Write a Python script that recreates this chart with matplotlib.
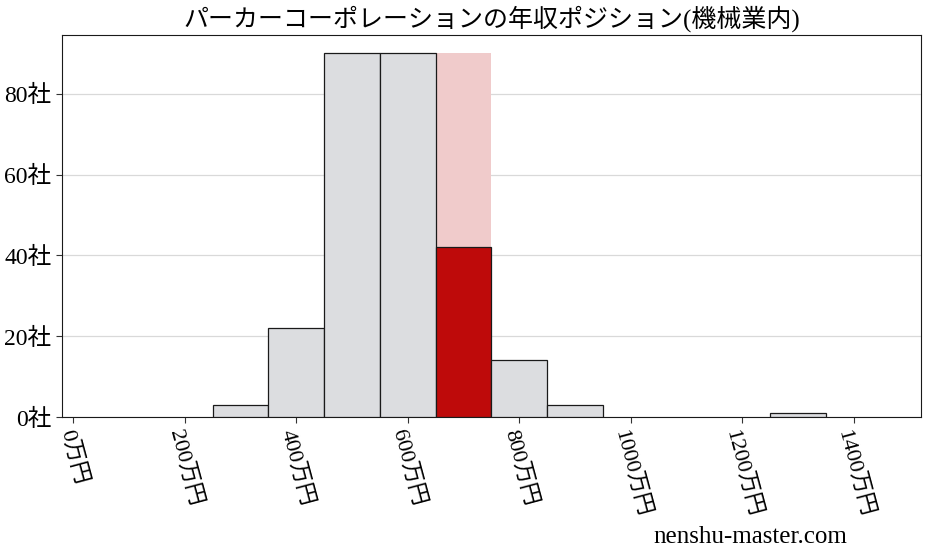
import numpy as np
import matplotlib
matplotlib.use("Agg")
import matplotlib.pyplot as plt

# salary bins (万円) and company counts per bin
bin_centers = [300, 400, 500, 600, 700, 800, 900, 1000, 1100, 1200, 1300]
counts = [3, 22, 90, 90, 42, 14, 3, 0, 0, 0, 1]
highlight_center = 700
bin_width = 100

title = "パーカーコーポレーションの年収ポジション(機械業内)"
yticks = [0, 20, 40, 60, 80]
xticks = [0, 200, 400, 600, 800, 1000, 1200, 1400]

fonts = ["Liberation Serif", "Noto Sans CJK JP", "DejaVu Sans"]
plt.rcParams["font.family"] = fonts

fig = plt.figure(figsize=(9.27, 5.57), dpi=100)
ax = fig.add_axes([0.0669, 0.2513, 0.9266, 0.6857])

grey = "#dcdde0"
red = "#be0a0a"
pink = "#f0cbcb"

hi = bin_centers.index(highlight_center)
ax.bar(highlight_center, max(counts), width=bin_width, color=pink, zorder=2)

for i, (c, n) in enumerate(zip(bin_centers, counts)):
    if n == 0:
        continue
    face = red if i == hi else grey
    ax.bar(c, n, width=bin_width, color=face, edgecolor="#1a1a1a",
           linewidth=0.9, zorder=3)

ax.set_xlim(-20, 1520)
ax.set_ylim(0, max(counts) * 1.05)
ax.yaxis.grid(True, color="#d9d9d9", linewidth=0.9, zorder=0)
ax.set_axisbelow(True)

ax.set_yticks(yticks)
ax.set_yticklabels([f"{v}社" for v in yticks], fontsize=17)
ax.set_xticks(xticks)
ax.set_xticklabels([f"{v}万円" for v in xticks], fontsize=16, rotation=-75)
ax.tick_params(axis="both", length=4, color="#333333")
for s in ax.spines.values():
    s.set_color("#1a1a1a")

ax.set_title(title, fontsize=18, pad=6)
fig.text(0.809, 0.036, "nenshu-master.com", fontsize=18, ha="center",
         va="center", family=["Liberation Serif", "DejaVu Serif"])

fig.savefig("out.png", dpi=100)
